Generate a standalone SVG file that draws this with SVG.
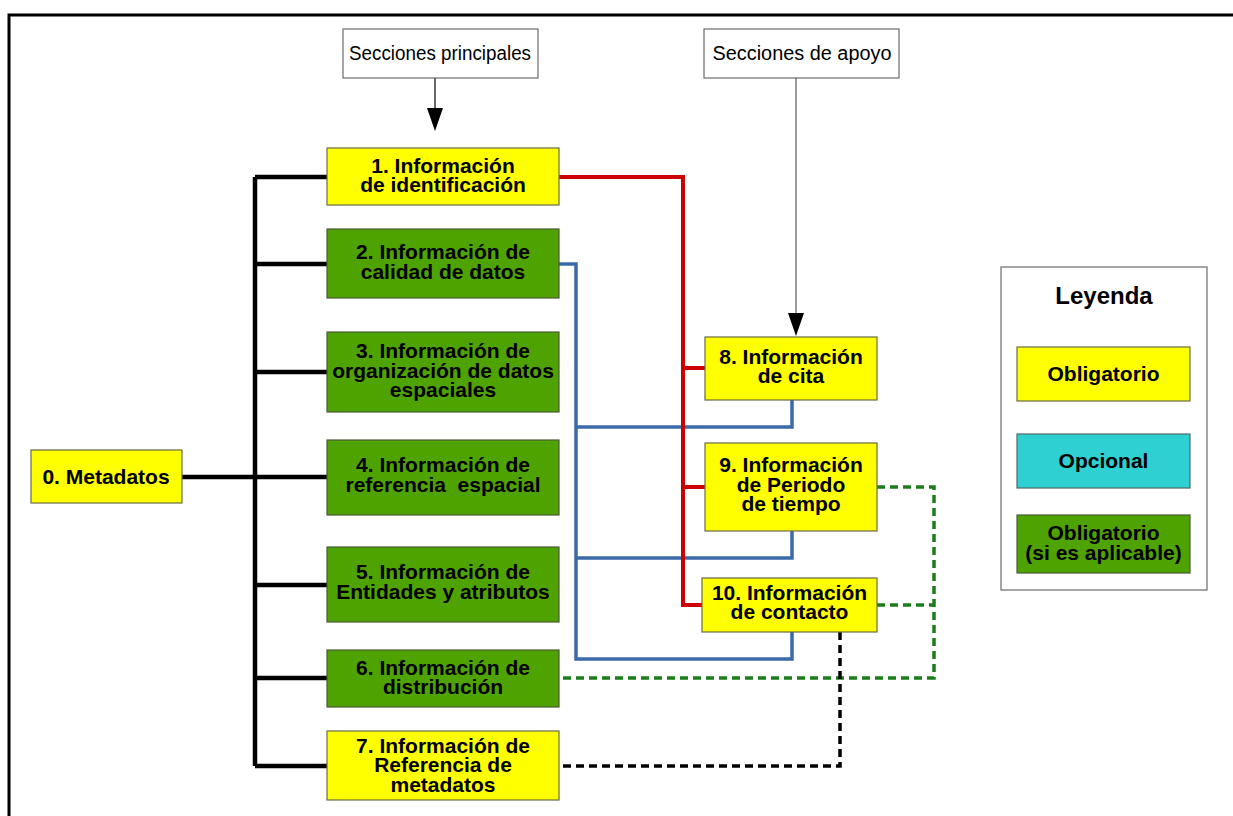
<svg xmlns="http://www.w3.org/2000/svg" width="1233" height="816" viewBox="0 0 1233 816">
<defs>
<style>
.box{stroke:#6b6b45;stroke-width:1.2}
.y{fill:#ffff00}
.g{fill:#4fa300;stroke:#4a5a3a}
.c{fill:#2ed0d2;stroke:#4d6a6a}
.hdr{fill:#ffffff;stroke:#6a6a6a;stroke-width:1.2}
.t{font-family:"Liberation Sans",Arial,sans-serif;font-weight:bold;font-size:21px;fill:#000;text-anchor:middle}
.h{font-family:"Liberation Sans",Arial,sans-serif;font-size:20px;fill:#000;text-anchor:middle}
.bus{fill:none;stroke:#000;stroke-width:4.5}
.red{fill:none;stroke:#cc0000;stroke-width:4}
.blue{fill:none;stroke:#3a6aa9;stroke-width:3.5}
.gd{fill:none;stroke:#1b7d1b;stroke-width:3.5;stroke-dasharray:8 5}
.kd{fill:none;stroke:#000;stroke-width:3.5;stroke-dasharray:8 5}
</style>
</defs>
<rect width="1233" height="816" fill="#ffffff"/>
<rect x="9" y="15" width="1240" height="820" fill="none" stroke="#000" stroke-width="3"/>

<g id="connectors">
<path class="bus" d="M182,477 H255 M255,177 V766 M255,177 H327 M255,264 H327 M255,372 H327 M255,477 H327 M255,585 H327 M255,678 H327 M255,766 H327"/>
<path class="blue" d="M559,264 H576 V659 H792 V632 M576,427 H792 V400 M576,558 H792 V531"/>
<path class="red" d="M559,177 H683 V605 H702 M683,368 H705 M683,487 H705"/>
<path class="gd" d="M877,487 H934 V678 H559 M877,605 H934"/>
<path class="kd" d="M840,632 V766 H559"/>
<line x1="435" y1="78" x2="435" y2="108" stroke="#000" stroke-width="1.2"/>
<path d="M427,108 L443,108 L435,131 Z" fill="#000"/>
<line x1="796" y1="78" x2="796" y2="313" stroke="#7a7a7a" stroke-width="1.5"/>
<path d="M788,313 L804,313 L796,336 Z" fill="#000"/>
</g>

<g id="hdr-principales">
<rect class="hdr" x="343" y="29" width="195" height="49"/>
<text class="h" x="440" y="60" textLength="182" lengthAdjust="spacingAndGlyphs">Secciones principales</text>
</g>
<g id="hdr-apoyo">
<rect class="hdr" x="704" y="29" width="195" height="49"/>
<text class="h" x="802" y="60" textLength="179" lengthAdjust="spacingAndGlyphs">Secciones de apoyo</text>
</g>

<g id="n0">
<rect class="box y" x="31" y="450" width="151" height="53"/>
<text class="t" x="106" y="484">0. Metadatos</text>
</g>
<g id="n1">
<rect class="box y" x="327" y="148" width="232" height="57"/>
<text class="t" x="443" y="172.5">1. Información</text>
<text class="t" x="443" y="192">de identificación</text>
</g>
<g id="n2">
<rect class="box g" x="327" y="229" width="232" height="69"/>
<text class="t" x="443" y="259">2. Información de</text>
<text class="t" x="443" y="278.5">calidad de datos</text>
</g>
<g id="n3">
<rect class="box g" x="327" y="332" width="232" height="80"/>
<text class="t" x="443" y="358">3. Información de</text>
<text class="t" x="443" y="377.5">organización de datos</text>
<text class="t" x="443" y="397">espaciales</text>
</g>
<g id="n4">
<rect class="box g" x="327" y="440" width="232" height="75"/>
<text class="t" x="443" y="472">4. Información de</text>
<text class="t" x="443" y="491.5" xml:space="preserve">referencia  espacial</text>
</g>
<g id="n5">
<rect class="box g" x="327" y="547" width="232" height="75"/>
<text class="t" x="443" y="579">5. Información de</text>
<text class="t" x="443" y="598.5">Entidades y atributos</text>
</g>
<g id="n6">
<rect class="box g" x="327" y="650" width="232" height="57"/>
<text class="t" x="443" y="674.5">6. Información de</text>
<text class="t" x="443" y="694">distribución</text>
</g>
<g id="n7">
<rect class="box y" x="327" y="731" width="232" height="69"/>
<text class="t" x="443" y="752.5">7. Información de</text>
<text class="t" x="443" y="772">Referencia de</text>
<text class="t" x="443" y="791.5">metadatos</text>
</g>
<g id="n8">
<rect class="box y" x="705" y="337" width="172" height="63"/>
<text class="t" x="791" y="363.5">8. Información</text>
<text class="t" x="791" y="383">de cita</text>
</g>
<g id="n9">
<rect class="box y" x="705" y="443" width="172" height="88"/>
<text class="t" x="791" y="472">9. Información</text>
<text class="t" x="791" y="491.5">de Periodo</text>
<text class="t" x="791" y="511">de tiempo</text>
</g>
<g id="n10">
<rect class="box y" x="702" y="578" width="175" height="54"/>
<text class="t" x="789.5" y="599.5">10. Información</text>
<text class="t" x="789.5" y="619">de contacto</text>
</g>

<g id="legend">
<rect x="1001" y="267" width="206" height="323" fill="#fff" stroke="#6a6a6a" stroke-width="1.2"/>
<text class="t" x="1104" y="304" style="font-size:24px">Leyenda</text>
<rect class="box y" x="1017" y="347" width="173" height="54"/>
<text class="t" x="1103.5" y="381">Obligatorio</text>
<rect class="box c" x="1017" y="434" width="173" height="54"/>
<text class="t" x="1103.5" y="468">Opcional</text>
<rect class="box g" x="1017" y="515" width="173" height="58"/>
<text class="t" x="1103.5" y="540">Obligatorio</text>
<text class="t" x="1103.5" y="559.5">(si es aplicable)</text>
</g>
</svg>
